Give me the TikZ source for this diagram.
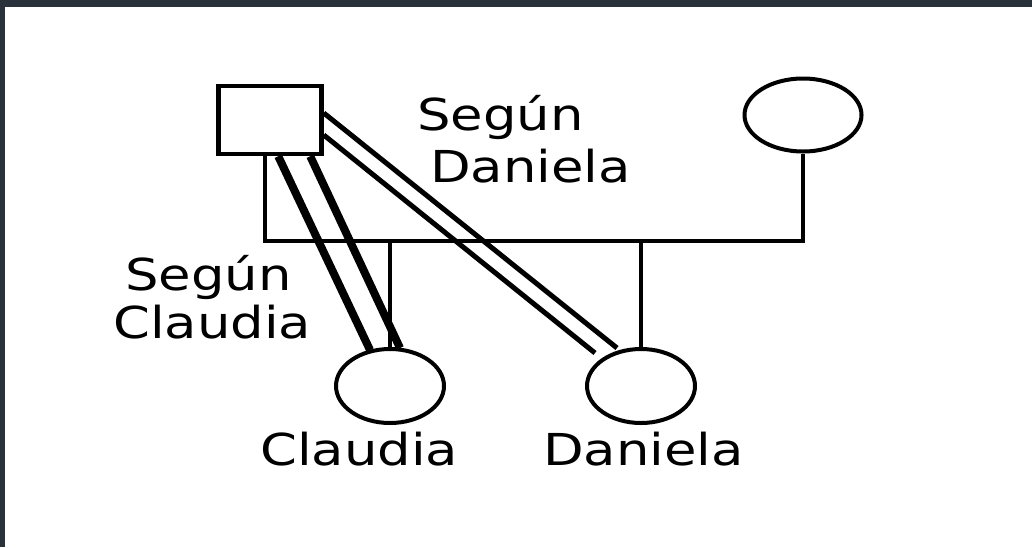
\documentclass[tikz,border=0pt]{standalone}
\usepackage{fontspec}
\newfontfamily\lblfont[FakeStretch=1.2]{DejaVu Sans}
\usetikzlibrary{shapes.geometric,calc}
\definecolor{framecol}{RGB}{41,49,58}
\begin{document}
\begin{tikzpicture}[x=1pt,y=-1pt,
  male/.style={draw, line width=4.5pt, rectangle, minimum width=103pt, minimum height=68pt, inner sep=0pt},
  female/.style={draw, line width=4pt, ellipse, minimum width=108pt, minimum height=74pt, inner sep=0pt},
  pl/.style={line width=4.5pt},
  thinrel/.style={line width=5pt},
  thickrel/.style={line width=8pt},
  lbl/.style={font=\lblfont\fontsize{44}{50}\selectfont, inner sep=0pt, anchor=base west}
]
\fill[framecol] (0,0) rectangle (1032,547);
\fill[white] (5,7) rectangle (1032,547);
\useasboundingbox (0,0) rectangle (1032,547);

% people
\node[male] (sq) at (270,120) {};
\node[female, minimum width=117pt, minimum height=73pt] (wife) at (803,115) {};
\node[female] (cl) at (390,386) {};
\node[female] (da) at (641,386) {};

% marriage and descent lines
\coordinate (mL) at (265,241);
\draw[pl] (mL |- sq.south) -- (mL) -- (wife.south |- mL) -- (wife.south);
\draw[pl] (cl.north |- mL) -- (cl.north);
\draw[pl] (da.north |- mL) -- (da.north);

% "Según Claudia" thick pair
\draw[thickrel] ($(sq.south west)+(62,0)$) -- ($(cl.north)+(-20,3)$);
\draw[thickrel] ($(sq.south west)+(94,0)$) -- ($(cl.north)+(10,1)$);

% "Según Daniela" thin pair
\draw[thinrel] ($(sq.east)+(0,-7)$) -- ($(da.north)+(-24,1)$);
\draw[thinrel] ($(sq.east)+(0,15)$) -- ($(da.north)+(-46,6)$);

% labels
\node[lbl] (sd1) at (417,130) {Según};
\node[lbl] (sd2) at (430,182) {Daniela};
\node[lbl] (sc1) at (125,290) {Según};
\node[lbl] (sc2) at (113,338) {Claudia};
\node[lbl] (ncl) at (260,465) {Claudia};
\node[lbl] (nda) at (543,465) {Daniela};
\end{tikzpicture}
\end{document}
